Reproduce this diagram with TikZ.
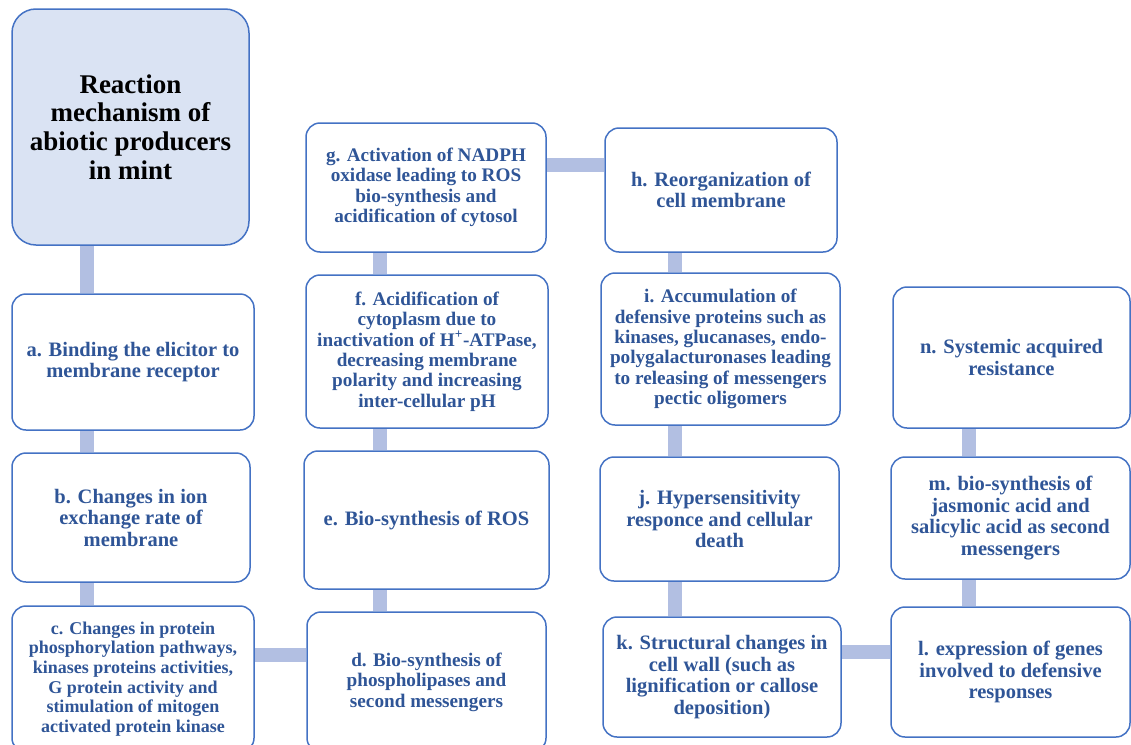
\documentclass[tikz,border=0pt]{standalone}
\usepackage{fontspec}
\setmainfont{Liberation Serif}
\usetikzlibrary{backgrounds}
\definecolor{boxline}{RGB}{68,114,196}
\definecolor{txtblue}{RGB}{47,85,151}
\definecolor{connfill}{RGB}{178,191,226}
\definecolor{titlefill}{RGB}{218,227,243}
\tikzset{
  stepbox/.style={draw=boxline, line width=1.5pt, fill=white, rounded corners=14pt,
    inner sep=0pt, align=center, text=txtblue, font=\fontsize{20.5}{21.5}\selectfont\bfseries},
  midtxt/.style={font=\fontsize{19.2}{20.4}\selectfont\bfseries},
  smalltxt/.style={font=\fontsize{18}{19.6}\selectfont\bfseries},
  titlebox/.style={stepbox, fill=titlefill, rounded corners=24pt, text=black,
    font=\fontsize{27}{28.7}\selectfont\bfseries},
  conn/.style={draw=connfill, line width=14pt},
}
\newcommand{\bx}[6]{\node[#1, minimum width=#4pt, minimum height=#5pt] (#2) at (#3) {#6};}
\begin{document}
\begin{tikzpicture}[x=1pt,y=-1pt]
\useasboundingbox (0,0) rectangle (1131,744);
\bx{titlebox}{title}{130.5,127}{237}{236}{Reaction\\mechanism of\\abiotic producers\\in mint}
\bx{stepbox}{a}{133,362}{242}{136}{a. Binding the elicitor to\\membrane receptor}
\bx{stepbox}{b}{131,517.5}{238}{129}{b. Changes in ion\\exchange rate of\\membrane}
\bx{stepbox,smalltxt}{c}{133,679}{242}{146}{c. Changes in protein\\phosphorylation pathways,\\kinases proteins activities,\\G protein activity and\\stimulation of mitogen\\activated protein kinase}
\bx{stepbox,midtxt}{g}{426,187.5}{240}{129}{g. Activation of NADPH\\oxidase leading to ROS\\bio-synthesis and\\acidification of cytosol}
\bx{stepbox,midtxt}{f}{427,351.5}{242}{153}{f. Acidification of\\cytoplasm due to\\inactivation of H\textsuperscript{+}-ATPase,\\decreasing membrane\\polarity and increasing\\inter-cellular pH}
\bx{stepbox}{e}{426.5,520}{245}{138}{e. Bio-synthesis of ROS}
\bx{stepbox,midtxt}{d}{426.5,682}{239}{140}{d. Bio-synthesis of\\phospholipases and\\second messengers}
\bx{stepbox}{h}{721,190}{232}{124}{h. Reorganization of\\cell membrane}
\bx{stepbox,midtxt}{i}{720.5,349}{239}{152}{i. Accumulation of\\defensive proteins such as\\kinases, glucanases, endo-\\polygalacturonases leading\\to releasing of messengers\\pectic oligomers}
\bx{stepbox}{j}{719.5,519}{239}{124}{j. Hypersensitivity\\responce and cellular\\death}
\bx{stepbox}{k}{722,677}{238}{120}{k. Structural changes in\\cell wall (such as\\lignification or callose\\deposition)}
\bx{stepbox}{n}{1011.5,357.5}{237}{141}{n. Systemic acquired\\resistance}
\bx{stepbox}{m}{1010.5,518}{239}{122}{m. bio-synthesis of\\jasmonic acid and\\salicylic acid as second\\messengers}
\bx{stepbox}{l}{1010.5,672}{239}{130}{l. expression of genes\\involved to defensive\\responses}
\coordinate (x1) at (87,0);
\coordinate (x2) at (380,0);
\coordinate (x3) at (675,0);
\coordinate (x4) at (969,0);
\coordinate (ycd) at (0,655);
\coordinate (ygh) at (0,165);
\coordinate (ykl) at (0,652);
\begin{scope}[on background layer]
\draw[conn] (title.south -| x1) -- (a.north -| x1);
\draw[conn] (a.south -| x1) -- (b.north -| x1);
\draw[conn] (b.south -| x1) -- (c.north -| x1);
\draw[conn] (c.east |- ycd) -- (d.west |- ycd);
\draw[conn] (d.north -| x2) -- (e.south -| x2);
\draw[conn] (e.north -| x2) -- (f.south -| x2);
\draw[conn] (f.north -| x2) -- (g.south -| x2);
\draw[conn] (g.east |- ygh) -- (h.west |- ygh);
\draw[conn] (h.south -| x3) -- (i.north -| x3);
\draw[conn] (i.south -| x3) -- (j.north -| x3);
\draw[conn] (j.south -| x3) -- (k.north -| x3);
\draw[conn] (k.east |- ykl) -- (l.west |- ykl);
\draw[conn] (l.north -| x4) -- (m.south -| x4);
\draw[conn] (m.north -| x4) -- (n.south -| x4);
\end{scope}
\end{tikzpicture}
\end{document}
